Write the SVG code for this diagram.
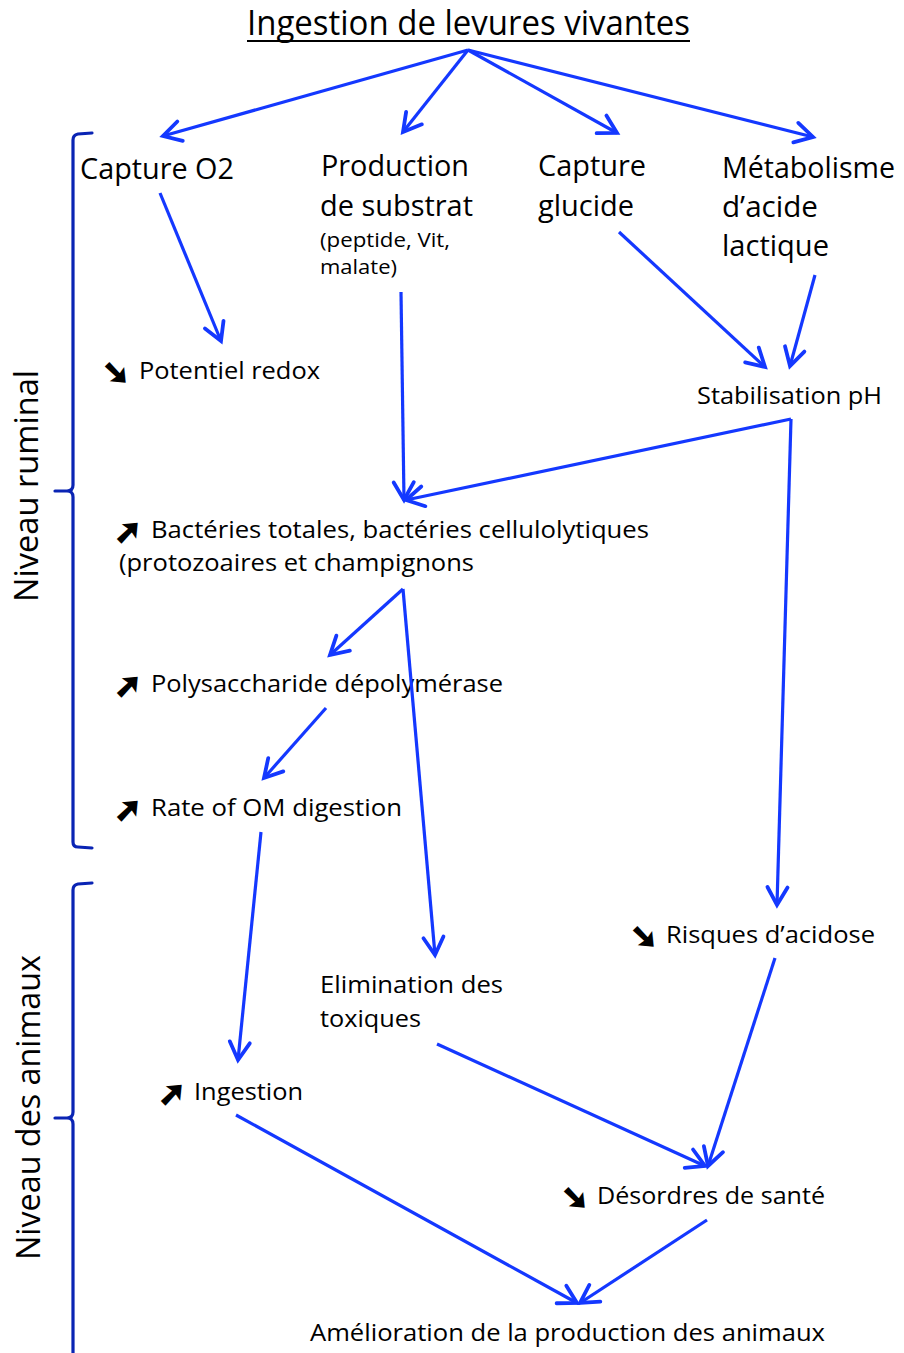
<svg xmlns="http://www.w3.org/2000/svg" width="904" height="1353" viewBox="0 0 904 1353">
<style>
text{font-family:"Open Sans","Liberation Sans",sans-serif;fill:#000}
.t{font-size:34px}
.l{font-size:30px}
.s{font-size:20px}
.m{font-size:24.5px}
.r{font-size:32px}
.g{font-family:"DejaVu Sans",sans-serif;font-size:31px;stroke:#000;stroke-width:2.8;stroke-linejoin:miter}
.c line{stroke:#1438ff;stroke-width:3.2;fill:none;marker-end:url(#ah)}
.b{stroke:#0a24b4;stroke-width:3.2;fill:none;stroke-linecap:round}
</style>
<defs>
<marker id="ah" markerUnits="userSpaceOnUse" markerWidth="26" markerHeight="26" viewBox="-18 -11 22 22" refX="0" refY="0" orient="auto">
<path d="M-15,-8.5 L0,0 L-15,8.5" fill="none" stroke="#1438ff" stroke-width="3.2" stroke-linecap="round" stroke-linejoin="miter"/>
</marker>
</defs>
<rect width="904" height="1353" fill="#fff"/>

<g id="title">
<text class="t" x="247" y="35" textLength="443" lengthAdjust="spacingAndGlyphs">Ingestion de levures vivantes</text>
<line x1="247" y1="41" x2="690" y2="41" stroke="#000" stroke-width="2"/>
</g>

<g id="brace-ruminal">
<path class="b" d="M92,133 L78,134 Q73,135 73,140 L73,485 Q73,491 67,491 L55,491 M67,491 Q73,491 73,497 L73,842 Q73,847 78,847 L92,848"/>
<text class="r" transform="translate(38,602) rotate(-90)" x="0" y="0" textLength="232" lengthAdjust="spacingAndGlyphs">Niveau ruminal</text>
</g>

<g id="brace-animaux">
<path class="b" d="M92,883 L78,884 Q73,885 73,890 L73,1112 Q73,1118 67,1118 L55,1118 M67,1118 Q73,1118 73,1124 L73,1360"/>
<text class="r" transform="translate(40,1260) rotate(-90)" x="0" y="0" textLength="305" lengthAdjust="spacingAndGlyphs">Niveau des animaux</text>
</g>

<g id="capture-o2">
<text class="l" x="80" y="179" textLength="154" lengthAdjust="spacingAndGlyphs">Capture O2</text>
</g>

<g id="production-substrat">
<text class="l" x="321" y="176" textLength="148" lengthAdjust="spacingAndGlyphs">Production</text>
<text class="l" x="320" y="216" textLength="153" lengthAdjust="spacingAndGlyphs">de substrat</text>
<text class="s" x="320" y="247" textLength="130" lengthAdjust="spacingAndGlyphs">(peptide, Vit,</text>
<text class="s" x="320" y="274" textLength="77" lengthAdjust="spacingAndGlyphs">malate)</text>
</g>

<g id="capture-glucide">
<text class="l" x="538" y="176" textLength="108" lengthAdjust="spacingAndGlyphs">Capture</text>
<text class="l" x="538" y="216" textLength="96" lengthAdjust="spacingAndGlyphs">glucide</text>
</g>

<g id="metabolisme">
<text class="l" x="722" y="178" textLength="173" lengthAdjust="spacingAndGlyphs">Métabolisme</text>
<text class="l" x="722" y="217" textLength="96" lengthAdjust="spacingAndGlyphs">d’acide</text>
<text class="l" x="722" y="256" textLength="107" lengthAdjust="spacingAndGlyphs">lactique</text>
</g>

<g id="potentiel-redox">
<text class="g" x="103" y="383">➘</text>
<text class="m" x="139" y="379" textLength="181" lengthAdjust="spacingAndGlyphs">Potentiel redox</text>
</g>

<g id="stabilisation-ph">
<text class="m" x="697" y="404" textLength="185" lengthAdjust="spacingAndGlyphs">Stabilisation pH</text>
</g>

<g id="bacteries">
<text class="g" x="115" y="542">➚</text>
<text class="m" x="151" y="538" textLength="498" lengthAdjust="spacingAndGlyphs">Bactéries totales, bactéries cellulolytiques</text>
<text class="m" x="119" y="571" textLength="355" lengthAdjust="spacingAndGlyphs">(protozoaires et champignons</text>
</g>

<g id="polysaccharide">
<text class="g" x="115" y="696">➚</text>
<text class="m" x="151" y="692" textLength="352" lengthAdjust="spacingAndGlyphs">Polysaccharide dépolymérase</text>
</g>

<g id="rate-om">
<text class="g" x="115" y="820">➚</text>
<text class="m" x="151" y="816" textLength="251" lengthAdjust="spacingAndGlyphs">Rate of OM digestion</text>
</g>

<g id="risques-acidose">
<text class="g" x="631" y="947">➘</text>
<text class="m" x="666" y="943" textLength="209" lengthAdjust="spacingAndGlyphs">Risques d’acidose</text>
</g>

<g id="elimination">
<text class="m" x="320" y="993" textLength="183" lengthAdjust="spacingAndGlyphs">Elimination des</text>
<text class="m" x="320" y="1027" textLength="101" lengthAdjust="spacingAndGlyphs">toxiques</text>
</g>

<g id="ingestion">
<text class="g" x="159" y="1104">➚</text>
<text class="m" x="194" y="1100" textLength="109" lengthAdjust="spacingAndGlyphs">Ingestion</text>
</g>

<g id="desordres">
<text class="g" x="562" y="1208">➘</text>
<text class="m" x="597" y="1204" textLength="228" lengthAdjust="spacingAndGlyphs">Désordres de santé</text>
</g>

<g id="amelioration">
<text class="m" x="310" y="1341" textLength="515" lengthAdjust="spacingAndGlyphs">Amélioration de la production des animaux</text>
</g>

<g id="connectors" class="c">
<line x1="468" y1="50" x2="163" y2="136"/>
<line x1="468" y1="50" x2="403" y2="132"/>
<line x1="468" y1="50" x2="617" y2="133"/>
<line x1="468" y1="50" x2="813" y2="137"/>
<line x1="160" y1="193" x2="221" y2="341"/>
<line x1="401" y1="292" x2="404" y2="500"/>
<line x1="619" y1="232" x2="765" y2="367"/>
<line x1="815" y1="275" x2="790" y2="366"/>
<line x1="791" y1="419" x2="406" y2="500"/>
<line x1="791" y1="419" x2="777" y2="905"/>
<line x1="403" y1="589" x2="330" y2="655"/>
<line x1="403" y1="589" x2="435" y2="955"/>
<line x1="326" y1="708" x2="264" y2="778"/>
<line x1="261" y1="832" x2="238" y2="1060"/>
<line x1="775" y1="958" x2="708" y2="1166"/>
<line x1="437" y1="1044" x2="705" y2="1166"/>
<line x1="236" y1="1115" x2="577" y2="1303"/>
<line x1="707" y1="1220" x2="580" y2="1303"/>
</g>
</svg>
